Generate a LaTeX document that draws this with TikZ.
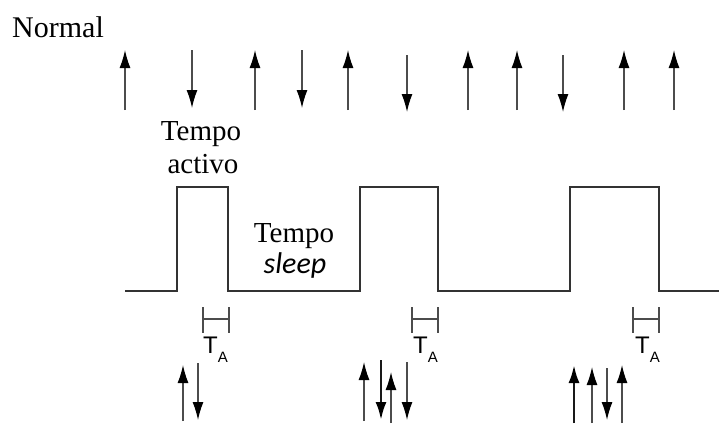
\documentclass[tikz,border=0pt]{standalone}
\usepackage{fontspec}
\setmainfont{Liberation Serif}
\newfontfamily\carlitofont{Carlito}
\newfontfamily\arialfont{Liberation Sans}
\usetikzlibrary{arrows.meta}
\tikzset{
  sig/.style={line width=1.8pt, draw=black!80},
  spin/.style={line width=1.3pt, draw=black!70, -{Latex[length=18pt,width=11pt,color=black]}},
  thickspin/.style={spin, line width=2.6pt, draw=black!90},
  brk/.style={line width=1.1pt, draw=black!70},
  lbl/.style={inner sep=0pt, anchor=base, font=\fontsize{29}{33}\selectfont},
  talbl/.style={inner sep=0pt, anchor=base west, font=\arialfont\fontsize{24}{24}\selectfont, text=black}
}
\begin{document}
\begin{tikzpicture}[x=1pt,y=-1pt]
\useasboundingbox (0,0) rectangle (719,423);
% label
\node[lbl, anchor=base west, font=\fontsize{30}{33}\selectfont] (normal) at (12,37) {Normal};
% top arrows
\foreach \x in {125,255,348,468,517,624,674} \draw[spin] (\x,110) -- (\x,50);
\draw[spin] (192,50) -- (192,108);
\draw[spin] (302,50) -- (302,108);
\draw[spin] (407,55) -- (407,112);
\draw[spin] (563,55) -- (563,112);
% texts
\node[lbl] (act1) at (201,140) {Tempo};
\node[lbl] (act2) at (203,173) {activo};
\node[lbl] (sl1) at (294,242) {Tempo};
\node[lbl, font=\carlitofont\itshape\fontsize{30}{33}\selectfont] (sl2) at (295,273) {sleep};
% waveform
\draw[sig] (125,291) -- (177,291) -- (177,187) -- (228,187) -- (228,291) -- (360,291) -- (360,187) -- (438,187) -- (438,291) -- (570,291) -- (570,187) -- (659,187) -- (659,291) -- (719,291);
% T_A brackets
\foreach \a/\b in {203/229, 412/438, 633/659} {
  \draw[brk] (\a,307) -- (\a,333);
  \draw[brk] (\b,307) -- (\b,333);
  \draw[brk] (\a,319) -- (\b,319);
}
\node[talbl] (ta1) at (203,353) {T\raisebox{-9pt}{\fontsize{15}{15}\selectfont A}};
\node[talbl] (ta2) at (413,353) {T\raisebox{-9pt}{\fontsize{15}{15}\selectfont A}};
\node[talbl] (ta3) at (635,353) {T\raisebox{-9pt}{\fontsize{15}{15}\selectfont A}};
% bottom arrows
\draw[spin] (183,421) -- (183,365);
\draw[spin] (198,363) -- (198,420);
\draw[spin] (364,421) -- (364,362);
\draw[thickspin] (381,360) -- (381,420);
\draw[spin] (391,423) -- (391,372);
\draw[spin] (407,362) -- (407,420);
\draw[thickspin] (574,423) -- (574,365);
\draw[spin] (592,423) -- (592,367);
\draw[spin] (607,368) -- (607,420);
\draw[spin] (622,423) -- (622,365);
\end{tikzpicture}
\end{document}
